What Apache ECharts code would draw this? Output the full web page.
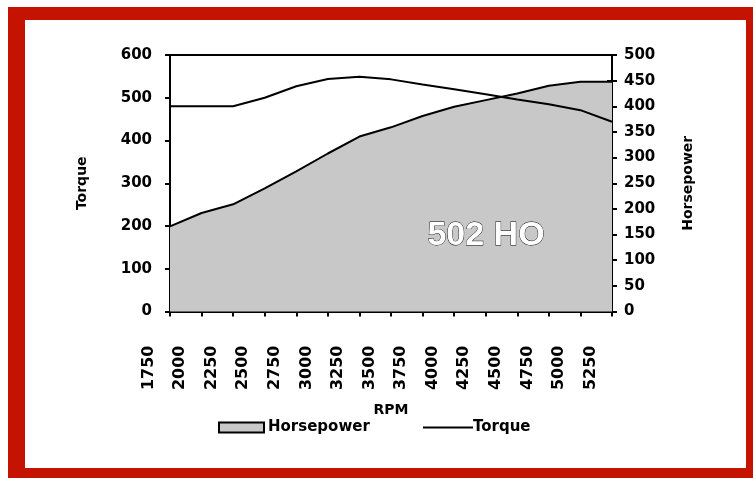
<!DOCTYPE html>
<html>
<head>
<meta charset="utf-8">
<script src="https://cdn.jsdelivr.net/npm/echarts@6/dist/echarts.min.js"></script>
<style>
  html, body { margin: 0; padding: 0; background: #ffffff; }
  #frame { position: absolute; left: 8px; top: 7px; width: 745px; height: 471px; background: #C41400; }
  #inner { position: absolute; left: 25px; top: 20px; width: 721px; height: 448px; background: #ffffff; }
  #chart { position: absolute; left: 0; top: 0; width: 753px; height: 478px; }
</style>
</head>
<body>
<div id="frame"></div>
<div id="inner"></div>
<div id="chart"></div>
<script>
const rpmLabels = ['1750','2000','2250','2500','2750','3000','3250','3500','3750','4000','4250','4500','4750','5000','5250'];
const torqueValues = [480, 480, 480, 500, 527, 544, 549, 543, 531, 520, 508, 496, 485, 471, 444];
const horsepowerValues = [166, 192, 209, 240, 273, 308, 341, 359, 381, 399, 412, 425, 440, 448, 448];
const torqueTicks = { min: 0, max: 600, interval: 100 };
const hpTicks = { min: 0, max: 500, interval: 50 };

const FONT = 'DejaVu Sans';
const chart = echarts.init(document.getElementById('chart'), null, { renderer: 'canvas' });

chart.setOption({
  backgroundColor: 'transparent',
  animation: false,
  grid: {
    left: 170, right: 141, top: 55, bottom: 166.5,
    show: true, borderColor: '#000', borderWidth: 2, backgroundColor: 'transparent'
  },
  xAxis: [
    {
      type: 'category', data: rpmLabels, boundaryGap: false, position: 'bottom',
      name: 'RPM', nameLocation: 'middle', nameGap: 92,
      nameTextStyle: { fontFamily: FONT, fontWeight: 'bold', fontSize: 14, color: '#000' },
      axisLine: { lineStyle: { color: '#000', width: 2 } },
      axisTick: { show: true, inside: false, length: 5, alignWithLabel: true, lineStyle: { color: '#000', width: 2 } },
      axisLabel: {
        rotate: 90, margin: 34, interval: 0,
        fontFamily: FONT, fontWeight: 'bold', fontSize: 16, color: '#000',
        verticalAlign: 'bottom', lineHeight: 43
      },
      splitLine: { show: false }
    },
    {
      type: 'category', data: rpmLabels, boundaryGap: false, position: 'bottom',
      axisLine: { show: false },
      axisTick: { show: true, inside: true, length: 5, lineStyle: { color: '#000', width: 2 } },
      axisLabel: { show: false },
      splitLine: { show: false }
    }
  ],
  yAxis: [
    {
      type: 'value', position: 'left', min: torqueTicks.min, max: torqueTicks.max, interval: torqueTicks.interval,
      name: 'Torque', nameLocation: 'middle', nameRotate: 90, nameGap: 81,
      nameTextStyle: { fontFamily: FONT, fontWeight: 'bold', fontSize: 14, color: '#000' },
      axisLine: { show: true, lineStyle: { color: '#000', width: 2 } },
      axisTick: { show: true, length: 5, lineStyle: { color: '#000', width: 2 } },
      axisLabel: { margin: 18, fontFamily: FONT, fontWeight: 'bold', fontSize: 15, color: '#000' },
      splitLine: { show: false }
    },
    {
      type: 'value', position: 'right', min: hpTicks.min, max: hpTicks.max, interval: hpTicks.interval,
      name: 'Horsepower', nameLocation: 'middle', nameRotate: 90, nameGap: 69,
      nameTextStyle: { fontFamily: FONT, fontWeight: 'bold', fontSize: 14, color: '#000' },
      axisLine: { show: true, lineStyle: { color: '#000', width: 2 } },
      axisTick: { show: true, length: 5, lineStyle: { color: '#000', width: 2 } },
      axisLabel: { margin: 12, fontFamily: FONT, fontWeight: 'bold', fontSize: 15, color: '#000' },
      splitLine: { show: false }
    },
    {
      type: 'value', position: 'right', min: hpTicks.min, max: hpTicks.max, interval: hpTicks.interval,
      axisLine: { show: false },
      axisTick: { show: true, inside: true, length: 5, lineStyle: { color: '#000', width: 2 } },
      axisLabel: { show: false },
      splitLine: { show: false }
    }
  ],
  legend: [
    {
      left: 218, top: 420, padding: 0, itemWidth: 45, itemHeight: 10, itemGap: 0,
      textStyle: { fontFamily: FONT, fontWeight: 'bold', fontSize: 15, color: '#000', padding: [0, 0, 0, -1] },
      data: [{ name: 'Horsepower', icon: 'rect', itemStyle: { color: '#c8c8c8', borderColor: '#000', borderWidth: 2 } }]
    },
    {
      left: 423, top: 420, padding: 0, itemWidth: 50, itemHeight: 2, itemGap: 0,
      textStyle: { fontFamily: FONT, fontWeight: 'bold', fontSize: 15, color: '#000', padding: [0, 0, 0, -5] },
      data: [{ name: 'Torque', icon: 'rect', itemStyle: { color: '#000', borderWidth: 0 } }]
    }
  ],
  graphic: [
    {
      type: 'text', left: 427, top: 218, z: 100,
      style: {
        text: '502 HO', fill: '#ffffff', stroke: '#000', lineWidth: 0.8,
        font: 'bold 34px "Liberation Sans", Arial, sans-serif',
        shadowColor: '#000', shadowOffsetX: 2, shadowOffsetY: 2, shadowBlur: 0,
        textShadowColor: '#000', textShadowOffsetX: 2, textShadowOffsetY: 2, textShadowBlur: 0
      }
    }
  ],
  series: [
    {
      name: 'Horsepower', type: 'line', xAxisIndex: 0, yAxisIndex: 1,
      data: horsepowerValues, symbol: 'none', smooth: false,
      lineStyle: { color: '#000', width: 2 },
      itemStyle: { color: '#c8c8c8' },
      areaStyle: { color: '#c8c8c8', opacity: 1 },
      z: 2
    },
    {
      name: 'Torque', type: 'line', xAxisIndex: 0, yAxisIndex: 0,
      data: torqueValues, symbol: 'none', smooth: false,
      lineStyle: { color: '#000', width: 2 },
      itemStyle: { color: '#000' },
      z: 3
    }
  ]
});
</script>
</body>
</html>
